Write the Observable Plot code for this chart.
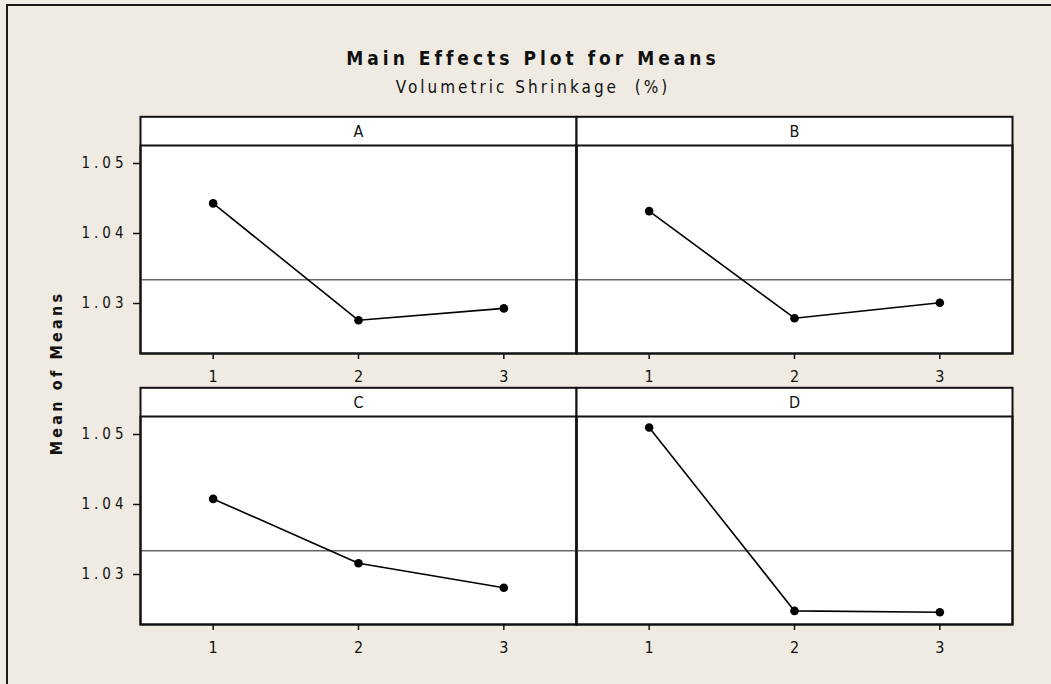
<!DOCTYPE html>
<html>
<head>
<meta charset="utf-8">
<script src="https://cdn.jsdelivr.net/npm/d3@7"></script>
<script src="https://cdn.jsdelivr.net/npm/@observablehq/plot@0.6"></script>
<style>
  html, body { margin: 0; padding: 0; background: #efebe2; }
  #wrap { position: relative; width: 1051px; height: 684px; background: #efebe2; overflow: hidden;
          font-family: "DejaVu Sans Condensed", "DejaVu Sans", sans-serif; color: #111; }
  #border { position: absolute; left: 6px; top: 4px; width: 2000px; height: 2000px;
            border-left: 2px solid #1a1a1a; border-top: 2px solid #1a1a1a; }
  .title { position: absolute; left: 0; width: 1066px; text-align: center; white-space: nowrap; }
  #t1 { top: 49px; font-size: 19px; line-height: 19px; font-weight: bold; letter-spacing: 4px; }
  #t2 { top: 79px; font-size: 17px; line-height: 17px; letter-spacing: 3px; }
  #ytitle { position: absolute; left: 55.5px; top: 372.5px; transform: translate(-50%, -50%) rotate(-90deg);
            font-size: 16px; font-weight: bold; letter-spacing: 3.2px; white-space: nowrap; }
  #chart { position: absolute; left: 0; top: 100px; }
  g[aria-label="y-axis tick label"] text { letter-spacing: 4px; }
  g.strip-label text { font-size: 16px !important; }
  g[aria-label="x-axis tick label"] text { font-size: 16px !important; }
</style>
</head>
<body>
<div id="wrap">
  <div id="border"></div>
  <div id="t1" class="title">Main Effects Plot for Means</div>
  <div id="t2" class="title">Volumetric Shrinkage&nbsp; (%)</div>
  <div id="ytitle">Mean of Means</div>
  <div id="chart"></div>
</div>
<script>
// ---- data ----
const factors = ["A", "B", "C", "D"];
const levels = [1, 2, 3];
const meansA = [1.0443, 1.0276, 1.0293];
const meansB = [1.0432, 1.0279, 1.0301];
const meansC = [1.0408, 1.0316, 1.0281];
const meansD = [1.0510, 1.0248, 1.0246];
const grandMean = 1.0334;
const yTicks = [1.03, 1.04, 1.05];
const xTicks = [1, 2, 3];

const seriesByFactor = [meansA, meansB, meansC, meansD];
const strips = factors.map((f, i) => ({factor: f, col: i % 2, row: Math.floor(i / 2)}));
const points = strips.flatMap((s, i) =>
  levels.map((lv, j) => ({...s, level: lv, mean: seriesByFactor[i][j]})));

const font = '"DejaVu Sans Condensed", "DejaVu Sans", sans-serif';

const chart = Plot.plot({
  width: 1051,
  height: 584,
  marginLeft: 139,
  marginRight: 39,
  marginTop: 45,
  marginBottom: 60,
  style: {background: "transparent", fontFamily: font, fontSize: "15px", color: "#111", overflow: "visible"},
  fx: {domain: [0, 1], padding: 0, axis: null},
  fy: {domain: [0, 1], paddingInner: 0.2325, paddingOuter: 0, axis: null},
  x: {domain: [0.5, 3.5]},
  y: {domain: [1.022857, 1.052571]},
  marks: [
    // strip + panel white background
    Plot.frame({fill: "white", stroke: "#111", strokeWidth: 2, insetTop: -28.7}),
    Plot.ruleY([grandMean], {stroke: "#666", strokeWidth: 1.5}),
    Plot.line(points, {x: "level", y: "mean", fx: "col", fy: "row", z: "factor", stroke: "#000", strokeWidth: 1.6}),
    Plot.dot(points, {x: "level", y: "mean", fx: "col", fy: "row", r: 4.3, fill: "#000", stroke: "none"}),
    Plot.frame({stroke: "#111", strokeWidth: 2}),
    Plot.text(strips, {fx: "col", fy: "row", text: "factor", frameAnchor: "top", lineAnchor: "middle",
                       dy: -13.5, fontSize: 16, fill: "#111", className: "strip-label"}),
    Plot.axisX({ticks: xTicks, tickFormat: d => String(d), tickSize: 6, tickPadding: 11, strokeWidth: 1.5,
                facetAnchor: null, fontSize: 16, label: null}),
    Plot.axisY({ticks: yTicks, tickFormat: d => d.toFixed(2), tickSize: 7, tickPadding: 6, strokeWidth: 1.5,
                fontSize: 15, label: null})
  ]
});
document.getElementById("chart").appendChild(chart);
</script>
</body>
</html>
